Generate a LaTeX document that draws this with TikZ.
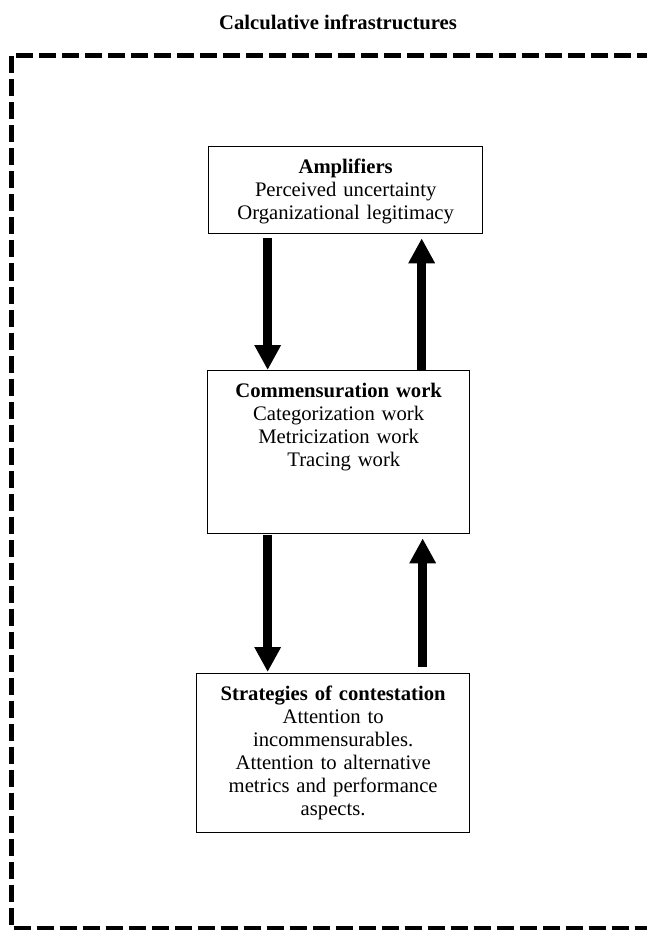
\documentclass[tikz,border=0pt]{standalone}
\usepackage{fontspec}
\setmainfont{Liberation Serif}
\usetikzlibrary{arrows.meta,calc}
\tikzstyle{box} = [rectangle, draw, line width=1pt, inner sep=0pt, align=center,
    text height=20.25pt, font=\fontsize{15.5}{17.25}\selectfont, anchor=north west]
\tikzstyle{fat} = [line width=6.75pt, -{Triangle[length=18.75pt,width=18.75pt]}]
\tikzstyle{frame} = [line width=3.75pt, dash pattern=on 12.75pt off 4.5pt]

\begin{document}
\begin{tikzpicture}[x=0.75pt,y=-0.75pt]
  \useasboundingbox (0,0) rectangle (646,930);
  \node[font=\fontsize{15.5}{17.25}\selectfont\bfseries,anchor=base] (title) at (338,30) {Calculative infrastructures};
  \draw[frame] (700,55.5) -- (11,55.5) -- (11,928) -- (700,928);

  \node[box,text width=205.5pt,text depth=45pt] (amp) at (208,146)
    {\textbf{Amplifiers}\\Perceived uncertainty\\Organizational legitimacy};
  \node[box,text width=196.5pt,text depth=102pt] (com) at (207,370)
    {\textbf{Commensuration work}\\Categorization work\\Metricization work\\\hspace*{0.5em}Tracing work};
  \node[box,text width=204.75pt,text depth=99pt] (str) at (196,673)
    {\textbf{Strategies of contestation}\\Attention to\\incommensurables.\\Attention to alternative\\metrics and performance\\aspects.};

  \draw[fat] ($(amp.south)+(-78,4)$) -- ($(com.north)+(-71,0)$);
  \draw[fat] ($(com.north)+(83,0)$) -- ($(amp.south)+(76,4)$);
  \draw[fat] ($(com.south)+(-71,1)$) -- ($(str.north)+(-65.5,-1)$);
  \draw[fat] ($(str.north)+(89.5,-6)$) -- ($(com.south)+(84,4)$);
\end{tikzpicture}
\end{document}
